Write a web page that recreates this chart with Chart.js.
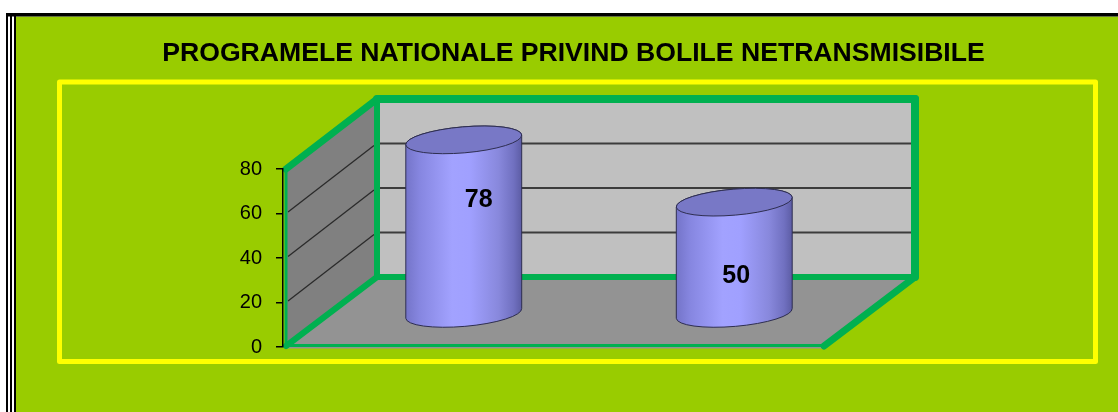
<!DOCTYPE html>
<html><head><meta charset="utf-8">
<script src="https://cdn.jsdelivr.net/npm/chart.js@4"></script>
<style>html,body{margin:0;padding:0;background:#fff;overflow:hidden}canvas{display:block}</style>
</head><body>
<canvas id="c" width="1118" height="412"></canvas>
<script>
const titleText = 'PROGRAMELE NATIONALE PRIVIND BOLILE NETRANSMISIBILE';
const categories = ['Programul 1', 'Programul 2'];
const values = [78, 50];
const valueLabels = ['78', '50'];
const yMin = 0, yMax = 80, yStep = 20;

const FONT = "'Liberation Sans', Arial, Helvetica, sans-serif";
const GREEN = '#00B050';
const DX = 91, DY = -70;          // 3D depth of the plot box
const CYL_DEPTH_X = 0.5, CYL_DEPTH_Y = 0.48;
const LABEL_NUDGE = [[15, 60], [2, 74]];

Chart.defaults.font.family = FONT;

function line(ctx, x1, y1, x2, y2, w, col) {
  ctx.beginPath(); ctx.moveTo(x1, y1); ctx.lineTo(x2, y2);
  ctx.lineWidth = w; ctx.strokeStyle = col; ctx.stroke();
}

const backdrop = {
  id: 'backdrop',
  beforeDraw(chart) {
    const { ctx, width, height, chartArea: a, scales: { y } } = chart;
    ctx.save();
    // page + frame
    ctx.fillStyle = '#fff'; ctx.fillRect(0, 0, width, height);
    ctx.fillStyle = '#99CC00'; ctx.fillRect(16, 16.5, width - 16, height - 16.5);
    ctx.fillStyle = '#000';
    ctx.fillRect(6, 13, width - 6, 3.5);
    ctx.fillRect(6, 13, 2, height - 13);
    ctx.fillRect(10, 13, 2, height - 13);
    ctx.fillRect(14, 13, 2, height - 13);
    ctx.strokeStyle = '#FFFF00'; ctx.lineWidth = 5; ctx.lineJoin = 'round';
    ctx.strokeRect(59.5, 82, 1036, 279.5);

    // 3D walls
    const L = a.left + 3, R = a.right, T = a.top, B = a.bottom;
    ctx.fillStyle = '#808080';
    ctx.beginPath(); ctx.moveTo(L, T); ctx.lineTo(L + DX, T + DY); ctx.lineTo(L + DX, B + DY); ctx.lineTo(L, B); ctx.closePath(); ctx.fill();
    ctx.fillStyle = '#C0C0C0';
    ctx.fillRect(L + DX, T + DY, R - L, B - T);
    ctx.fillStyle = '#939393';
    ctx.beginPath(); ctx.moveTo(L, B + 1.5); ctx.lineTo(L + DX, B + DY); ctx.lineTo(R + DX, B + DY); ctx.lineTo(R, B + 1.5); ctx.closePath(); ctx.fill();
    for (let v = yMin + yStep; v < yMax; v += yStep) {
      const py = y.getPixelForValue(v);
      line(ctx, L + DX, py + DY, R + DX, py + DY, 2, '#3c3c3c');
      line(ctx, L + 2, py - 1.5, L + DX - 3, py + DY + 2, 1.3, '#2a2a2a');
    }
    ctx.lineCap = 'round';
    line(ctx, L + DX, T + DY, L + DX, B + DY, 6, GREEN);
    line(ctx, L + DX, B + DY, R + DX, B + DY, 6, GREEN);
    line(ctx, L, B - 1, L + DX, B + DY, 6, GREEN);
    line(ctx, L, B - 1.5, R, B - 1.5, 3, GREEN);
    line(ctx, L, T, L, B, 3, GREEN);
    line(ctx, L, T, L + DX, T + DY, 7, GREEN);
    line(ctx, L + DX, T + DY, R + DX, T + DY, 8, GREEN);
    line(ctx, R + DX, T + DY, R + DX, B + DY, 8, GREEN);
    line(ctx, R, B - 1, R + DX, B + DY, 7, GREEN);
    ctx.restore();
  }
};

const cylinders = {
  id: 'cylinders',
  afterDatasetsDraw(chart) {
    const { ctx, scales: { y } } = chart;
    const meta = chart.getDatasetMeta(0);
    const base0 = y.getPixelForValue(0);
    ctx.save();
    meta.data.forEach((bar, i) => {
      const cx = bar.x + DX * CYL_DEPTH_X;
      const topY = bar.y + DY * CYL_DEPTH_Y;
      const baseY = base0 + DY * CYL_DEPTH_Y;
      const rx = bar.width / 2, ry = 13, rot = -0.085;
      const ex = rx * Math.cos(rot), ey = rx * Math.sin(rot);
      const g = ctx.createLinearGradient(cx - rx, 0, cx + rx, 0);
      g.addColorStop(0, '#7474C8');
      g.addColorStop(0.12, '#8686E0');
      g.addColorStop(0.4, '#A2A2FF');
      g.addColorStop(0.55, '#A0A0FF');
      g.addColorStop(0.8, '#8888DC');
      g.addColorStop(0.93, '#7070C0');
      g.addColorStop(1, '#5C5CA4');
      ctx.beginPath();
      ctx.ellipse(cx, baseY, rx, ry, rot, 0, Math.PI);
      ctx.lineTo(cx - ex, topY - ey);
      ctx.ellipse(cx, topY, rx, ry, rot, Math.PI, 2 * Math.PI);
      ctx.closePath();
      ctx.fillStyle = g; ctx.fill();
      ctx.lineWidth = 1; ctx.strokeStyle = '#2e2e50'; ctx.stroke();
      ctx.beginPath();
      ctx.ellipse(cx, topY, rx, ry, rot, 0, 2 * Math.PI);
      ctx.fillStyle = '#7878C6'; ctx.fill(); ctx.stroke();
      const n = LABEL_NUDGE[i] || [0, 60];
      ctx.fillStyle = '#000';
      ctx.font = 'bold 25px ' + FONT;
      ctx.textAlign = 'center'; ctx.textBaseline = 'middle';
      ctx.fillText(valueLabels[i], cx + n[0], topY + n[1]);
    });
    ctx.restore();
  }
};

new Chart(document.getElementById('c'), {
  type: 'bar',
  data: {
    labels: categories,
    datasets: [{
      data: values,
      backgroundColor: 'rgba(0,0,0,0)',
      borderWidth: 0,
      categoryPercentage: 1,
      barPercentage: 0.43
    }]
  },
  options: {
    responsive: false,
    animation: false,
    events: [],
    layout: { padding: { left: 29, right: 0, top: 0, bottom: 65 } },
    plugins: {
      legend: { display: false },
      tooltip: { enabled: false },
      title: {
        display: true,
        text: titleText,
        color: '#000',
        font: { size: 26.6, weight: 'bold', family: FONT, lineHeight: 1.2 },
        padding: { top: 37.5, bottom: 99.58 }
      }
    },
    scales: {
      x: { display: false },
      y: {
        min: yMin, max: yMax,
        afterFit: s => { s.width = 254; },
        ticks: { stepSize: yStep, color: '#000', padding: 14, font: { size: 20, family: FONT } },
        grid: { drawOnChartArea: false, color: '#000', tickLength: 7, lineWidth: 1.5 },
        border: { display: true, color: '#000', width: 1.5 }
      },
      yRight: {
        position: 'right',
        min: yMin, max: yMax,
        afterFit: s => { s.width = 294; },
        ticks: { display: false },
        grid: { display: false },
        border: { display: false }
      }
    }
  },
  plugins: [backdrop, cylinders]
});
</script>
</body></html>
